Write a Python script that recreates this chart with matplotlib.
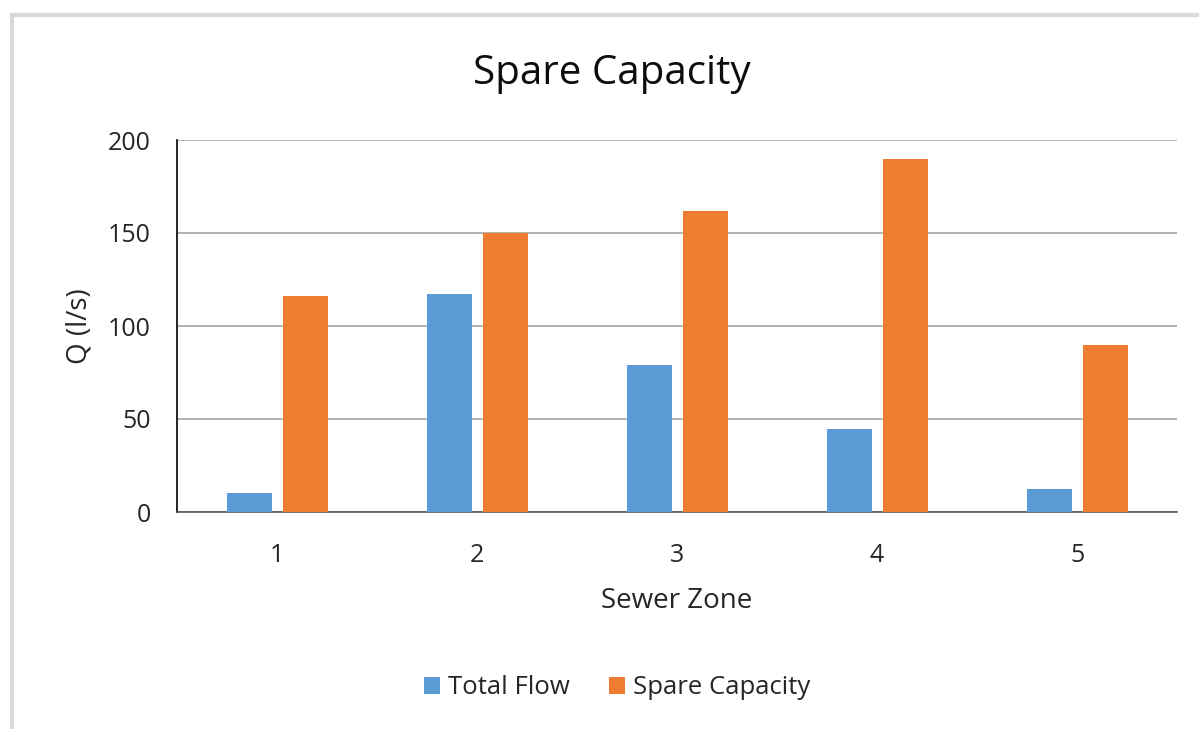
import numpy as np
import matplotlib.pyplot as plt
from matplotlib.patches import Rectangle

zones = ['1', '2', '3', '4', '5']
total_flow = [10, 117, 79, 44.5, 12.5]
spare_capacity = [116, 150, 162, 190, 90]

blue = '#5B9BD5'
orange = '#ED7D31'

plt.rcParams['font.family'] = ['Open Sans', 'DejaVu Sans']

fig = plt.figure(figsize=(11.99, 7.29), dpi=100)
# outer chart border (light gray), runs off the right and bottom edges
fig.patches.append(Rectangle((12 / 1199, -0.05), 1.1, 1 - 15 / 729 + 0.05,
                             transform=fig.transFigure, fill=False,
                             edgecolor='#D9D9D9', linewidth=3, zorder=0))

ax = fig.add_axes([177 / 1199, (729 - 512) / 729, 1000 / 1199, 372 / 729])
x = np.arange(len(zones))
w = 0.225
ax.bar(x - 0.14, total_flow, w, color=blue, label='Total Flow', zorder=3)
ax.bar(x + 0.14, spare_capacity, w, color=orange, label='Spare Capacity', zorder=3)

ax.set_xlim(-0.5, len(zones) - 0.5)
ax.set_ylim(0, 200)
ax.set_yticks([0, 50, 100, 150, 200])
ax.set_xticks(x)
ax.set_xticklabels(zones)
ax.tick_params(length=0, labelsize=18, colors='#262626')
ax.tick_params(axis='x', pad=22)
ax.tick_params(axis='y', pad=19)
ax.grid(axis='y', color='#A6A6A6', linewidth=1.2, zorder=0)

for s in ['top', 'right']:
    ax.spines[s].set_visible(False)
ax.spines['left'].set_color('#000000')
ax.spines['left'].set_linewidth(1.2)
ax.spines['bottom'].set_color('#595959')
ax.spines['bottom'].set_linewidth(1.2)

ax.set_xlabel('Sewer Zone', fontsize=20, color='#262626', labelpad=14)
ax.set_ylabel('Q (l/s)', fontsize=20, color='#262626', labelpad=10)
fig.text(612 / 1199, 1 - 74 / 729, 'Spare Capacity', fontsize=29, color='#0D0D0D',
         ha='center', va='center')

fig.legend(loc='center', bbox_to_anchor=(617 / 1199, 1 - 688 / 729), ncol=2,
           frameon=False, fontsize=18.5, handlelength=0.65, handleheight=0.65,
           handletextpad=0.3, columnspacing=1.5, labelcolor='#262626')

fig.savefig('out.png', dpi=100)
